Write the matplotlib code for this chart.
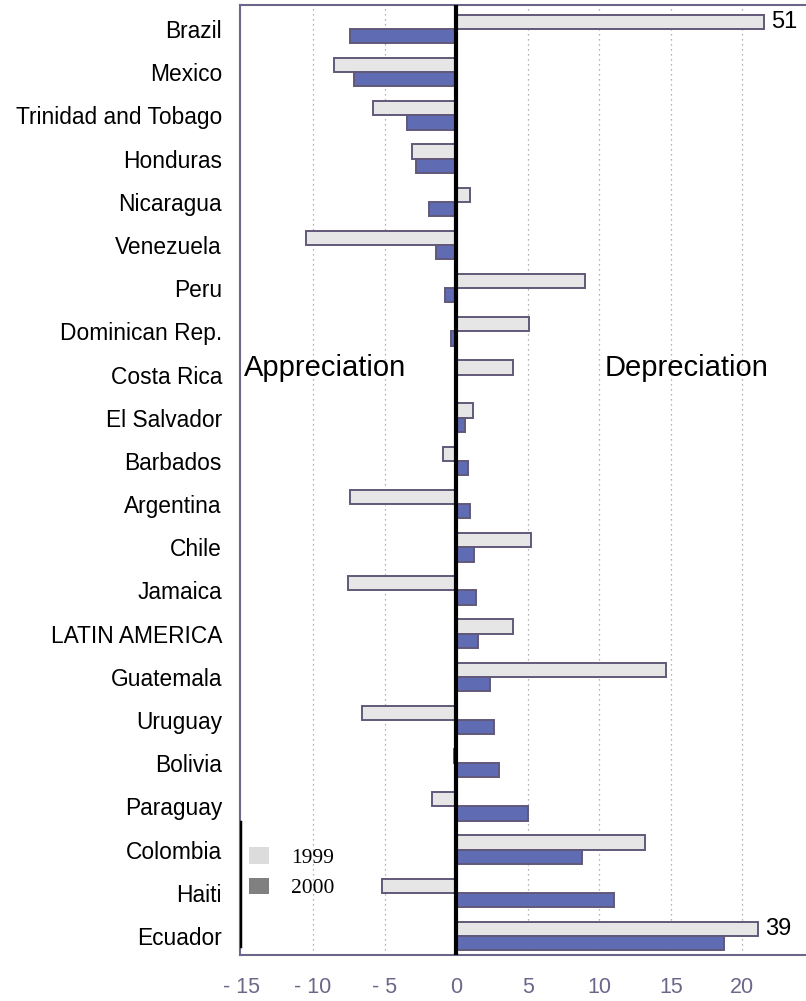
import numpy as np
import matplotlib
matplotlib.use("Agg")
import matplotlib.pyplot as plt
from matplotlib.patches import Patch

# countries, top to bottom
countries = ["Brazil", "Mexico", "Trinidad and Tobago", "Honduras", "Nicaragua",
             "Venezuela", "Peru", "Dominican Rep.", "Costa Rica", "El Salvador",
             "Barbados", "Argentina", "Chile", "Jamaica", "LATIN AMERICA",
             "Guatemala", "Uruguay", "Bolivia", "Paraguay", "Colombia", "Haiti",
             "Ecuador"]

# 1999 values (Brazil and Ecuador bars are cut at the axis, real values in notes)
v1999 = [21.5, -8.5, -5.8, -3.1, 1.0, -10.5, 9.0, 5.1, 4.0, 1.2,
         -0.9, -7.4, 5.25, -7.55, 4.0, 14.65, -6.6, -0.15, -1.7, 13.2, -5.2,
         21.1]
v2000 = [-7.4, -7.1, -3.4, -2.8, -1.9, -1.4, -0.8, -0.35, 0.0, 0.6,
         0.8, 0.95, 1.25, 1.4, 1.55, 2.35, 2.65, 3.0, 5.0, 8.8, 11.0,
         18.7]

notes = {"Brazil": "51", "Ecuador": "39"}

xticks = [-15, -10, -5, 0, 5, 10, 15, 20]
xticklabels = ["- 15", "- 10", "- 5", "0", "5", "10", "15", "20"]

edge = "#625879"
blue = "#5f6cb4"
light = "#e6e6e6"
axcol = "#6e6688"

plt.rcParams["font.family"] = ["Liberation Sans", "DejaVu Sans"]

fig = plt.figure(figsize=(8.06, 10.01), dpi=100)
ax = fig.add_axes([240 / 806, 1 - 955 / 1001, 566 / 806, 950 / 1001])

y = np.arange(len(countries))
h = 0.33
ax.barh(y - h / 2, v1999, height=h, color=light, edgecolor=edge, linewidth=1.4, zorder=3)
ax.barh(y + h / 2, v2000, height=h, color=blue, edgecolor=edge, linewidth=1.4, zorder=3)

ax.set_xlim(-15.1, 24.45)
ax.set_ylim(len(countries) - 1 + 0.44, -0.556)

for gx in [-10, -5, 5, 10, 15, 20]:
    ax.axvline(gx, color="#9a9a9a", linestyle=(0, (1, 3)), linewidth=0.9, zorder=1)
ax.axvline(0, color="black", linewidth=3, zorder=4)

ax.set_yticks(y)
ax.set_yticklabels(countries, fontsize=16.4)
ax.set_xticks(xticks)
ax.set_xticklabels(xticklabels, fontsize=15.5, color=axcol)
ax.tick_params(axis="y", length=0, pad=13)
ax.tick_params(axis="x", length=0, pad=16)

for s in ["top", "bottom", "left"]:
    ax.spines[s].set_color(axcol)
    ax.spines[s].set_linewidth(1.5)
ax.spines["right"].set_visible(False)
# black piece on the left edge next to the legend
ax.axvline(-15.1, ymin=0.01, ymax=0.14, color="black", linewidth=2.5, zorder=5)

for i, c in enumerate(countries):
    if c in notes:
        ax.text(v1999[i] + 0.5, i - h / 2, notes[c], fontsize=17, va="center", ha="left")

ax.text(-14.8, 7.86, "Appreciation", fontsize=21, va="center", ha="left")
ax.text(10.4, 7.86, "Depreciation", fontsize=21, va="center", ha="left")

handles = [Patch(facecolor="#dcdcdc", edgecolor="none"),
           Patch(facecolor="#808080", edgecolor="none")]
fig.legend(handles, ["1999", "2000"], loc="upper left",
           bbox_to_anchor=(230 / 806, 1 - 828 / 1001), frameon=False,
           prop={"family": "Liberation Serif", "size": 15.5},
           handlelength=0.93, handleheight=0.8, handletextpad=1.0,
           labelspacing=0.45)

fig.savefig("out.png", dpi=100)
